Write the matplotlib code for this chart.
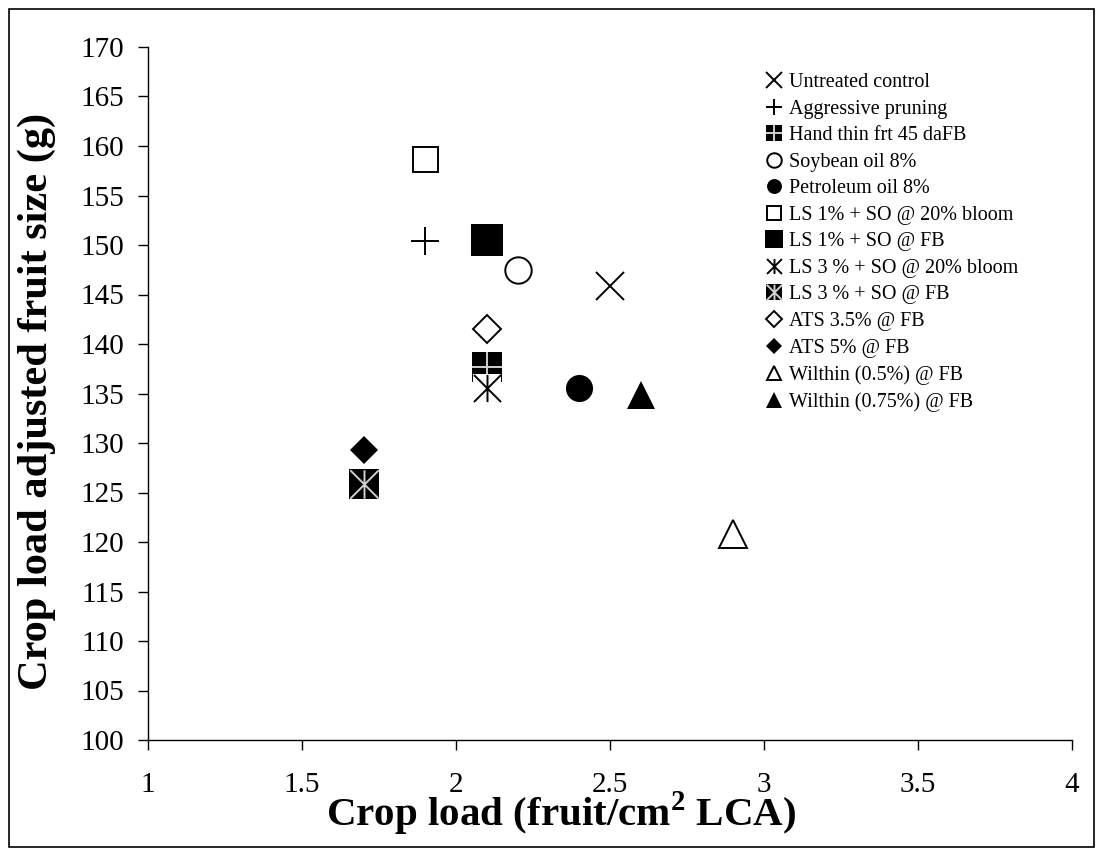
import matplotlib
matplotlib.use('Agg')
import matplotlib.pyplot as plt
from matplotlib.path import Path
from matplotlib.patches import Rectangle

plt.rcParams['font.family'] = ['Liberation Serif', 'DejaVu Serif']
plt.rcParams['mathtext.fontset'] = 'custom'
plt.rcParams['mathtext.rm'] = 'Liberation Serif'
plt.rcParams['mathtext.bf'] = 'Liberation Serif:bold'

# data
treatments = ['Untreated control', 'Aggressive pruning', 'Hand thin frt 45 daFB',
              'Soybean oil 8%', 'Petroleum oil 8%', 'LS 1% + SO @ 20% bloom',
              'LS 1% + SO @ FB', 'LS 3 % + SO @ 20% bloom', 'LS 3 % + SO @ FB',
              'ATS 3.5% @ FB', 'ATS 5% @ FB', 'Wilthin (0.5%) @ FB',
              'Wilthin (0.75%) @ FB']
crop_load = [2.5, 1.9, 2.1, 2.2, 2.4, 1.9, 2.1, 2.1, 1.7, 2.1, 1.7, 2.9, 2.6]
fruit_size = [145.9, 150.4, 137.7, 147.5, 135.6, 158.7, 150.5, 135.6, 125.9,
              141.5, 129.3, 120.8, 134.8]

x_ticks = [1, 1.5, 2, 2.5, 3, 3.5, 4]
y_ticks = list(range(100, 175, 5))

# excel style "star" marker = asterisk without the horizontal bar
asterisk = Path([(-1, -1), (1, 1), (-1, 1), (1, -1), (0, -1), (0, 1)],
                [Path.MOVETO, Path.LINETO, Path.MOVETO, Path.LINETO,
                 Path.MOVETO, Path.LINETO])

LIGHT = '#cfcfcf'
# one list of layers per treatment: (marker, size, face, edge, edge width)
styles = [
    [('x', 20, 'none', 'k', 1.4)],
    [('+', 20, 'none', 'k', 1.4)],
    [('s', 22, 'k', 'none', 0), ('+', 21, 'none', LIGHT, 1.4)],
    [('o', 19, 'white', 'k', 1.4)],
    [('o', 19.5, 'k', 'none', 0)],
    [('s', 18, 'white', 'k', 1.4)],
    [('s', 22.5, 'k', 'none', 0)],
    [('s', 20, 'white', 'none', 0), (asterisk, 19.5, 'none', 'k', 1.4)],
    [('s', 21.5, 'k', 'none', 0), (asterisk, 20.5, 'none', LIGHT, 1.4)],
    [('D', 14, 'white', 'k', 1.4)],
    [('D', 14.5, 'k', 'none', 0)],
    [('^', 19.5, 'white', 'k', 1.4)],
    [('^', 20, 'k', 'none', 0)],
]

fig = plt.figure(figsize=(10.96, 8.48), dpi=100)
ax = fig.add_axes([148 / 1096, 1 - 740 / 848, 924 / 1096, 693 / 848])

handles = []
for i, layers in enumerate(styles):
    parts = []
    for m, ms, fc, ec, mew in layers:
        ln, = ax.plot(crop_load[i], fruit_size[i], linestyle='none', marker=m,
                      markersize=ms, markerfacecolor=fc, markeredgecolor=ec,
                      markeredgewidth=mew, zorder=3 + i)
        parts.append(ln)
    handles.append(tuple(parts))

ax.set_xlim(1, 4)
ax.set_ylim(100, 170)
ax.set_xticks(x_ticks)
ax.set_xticklabels(['%g' % t for t in x_ticks])
ax.set_yticks(y_ticks)
ax.tick_params(direction='out', length=7, width=1, labelsize=21, pad=10,
               colors='k')
ax.tick_params(axis='x', pad=16)
for s in ['top', 'right']:
    ax.spines[s].set_visible(False)
for s in ['left', 'bottom']:
    ax.spines[s].set_linewidth(1)

ax.set_xlabel('Crop load (fruit/cm$^{\\mathbf{2}}$ LCA)', fontsize=29.5,
              fontweight='bold', va='center')
ax.xaxis.set_label_coords(0.447, -0.106)
ax.set_ylabel('Crop load adjusted fruit size (g)', fontsize=30.5,
              fontweight='bold', va='center')
ax.yaxis.set_label_coords(-0.120, 0.488)

leg = fig.legend(handles, treatments, loc='upper left',
                 bbox_to_anchor=(766 / 1096, 1 - 73 / 848),
                 frameon=False, fontsize=14.5, markerscale=0.55,
                 handlelength=0.82, handletextpad=0.3, labelspacing=0.37,
                 borderpad=0, borderaxespad=0)

# chart area border
fig.patches.append(Rectangle((9 / 1096, 1 / 848), 1085 / 1096, 838 / 848,
                             transform=fig.transFigure, fill=False,
                             edgecolor='k', linewidth=1.2))

fig.savefig('out.png', dpi=100)
